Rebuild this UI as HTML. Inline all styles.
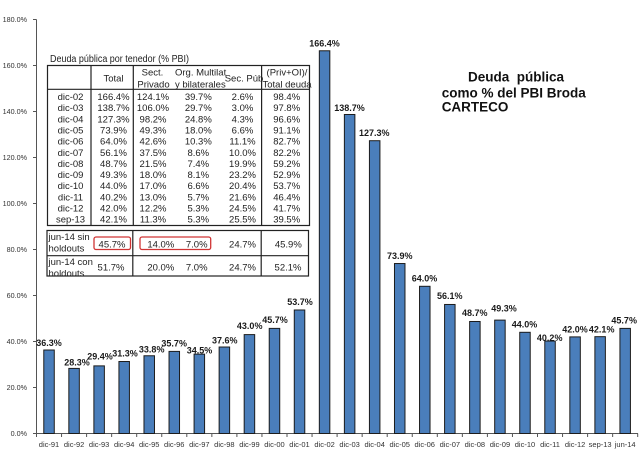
<!DOCTYPE html>
<html><head><meta charset="utf-8"><style>
html,body{margin:0;padding:0;background:#fff;}
svg{display:block;font-family:"Liberation Sans",Arial,sans-serif;}
</style></head><body>
<svg width="643" height="460" viewBox="0 0 643 460" xmlns="http://www.w3.org/2000/svg">
<rect width="643" height="460" fill="#fff"/>
<!-- axes -->
<g stroke="#555" stroke-width="1" fill="none">
<line x1="36.5" y1="19.5" x2="36.5" y2="433.5"/>
<line x1="36.5" y1="433.5" x2="638" y2="433.5"/>
<path d="M33 433.5H36.5M33 387.5H36.5M33 341.5H36.5M33 295.5H36.5M33 249.5H36.5M33 203.5H36.5M33 157.5H36.5M33 111.5H36.5M33 65.5H36.5M33 19.5H36.5"/>
<path d="M36.5 433.5V437M61.55 433.5V437M86.6 433.5V437M111.65 433.5V437M136.7 433.5V437M161.75 433.5V437M186.8 433.5V437M211.85 433.5V437M236.9 433.5V437M261.95 433.5V437M287 433.5V437M312.05 433.5V437M337.1 433.5V437M362.15 433.5V437M387.2 433.5V437M412.25 433.5V437M437.3 433.5V437M462.35 433.5V437M487.4 433.5V437M512.45 433.5V437M537.5 433.5V437M562.55 433.5V437M587.6 433.5V437M612.65 433.5V437M637.7 433.5V437"/>
</g>
<g font-size="7.2" fill="#333" text-anchor="end">
<text x="27" y="436.2">0.0%</text>
<text x="27" y="390.2">20.0%</text>
<text x="27" y="344.2">40.0%</text>
<text x="27" y="298.2">60.0%</text>
<text x="27" y="252.2">80.0%</text>
<text x="27" y="206.2">100.0%</text>
<text x="27" y="160.2">120.0%</text>
<text x="27" y="114.2">140.0%</text>
<text x="27" y="68.2">160.0%</text>
<text x="27" y="22.2">180.0%</text>
</g>
<g font-size="7.5" fill="#333" text-anchor="middle">
<text x="49.03" y="447">dic-91</text>
<text x="74.08" y="447">dic-92</text>
<text x="99.13" y="447">dic-93</text>
<text x="124.18" y="447">dic-94</text>
<text x="149.23" y="447">dic-95</text>
<text x="174.28" y="447">dic-96</text>
<text x="199.33" y="447">dic-97</text>
<text x="224.38" y="447">dic-98</text>
<text x="249.43" y="447">dic-99</text>
<text x="274.48" y="447">dic-00</text>
<text x="299.53" y="447">dic-01</text>
<text x="324.58" y="447">dic-02</text>
<text x="349.63" y="447">dic-03</text>
<text x="374.68" y="447">dic-04</text>
<text x="399.73" y="447">dic-05</text>
<text x="424.78" y="447">dic-06</text>
<text x="449.83" y="447">dic-07</text>
<text x="474.88" y="447">dic-08</text>
<text x="499.93" y="447">dic-09</text>
<text x="524.98" y="447">dic-10</text>
<text x="550.03" y="447">dic-11</text>
<text x="575.08" y="447">dic-12</text>
<text x="600.13" y="447">sep-13</text>
<text x="625.18" y="447">jun-14</text>
</g>
<!-- bars -->
<g fill="#4a7ebb" stroke="#1c1c1c" stroke-width="1">
<rect x="43.78" y="350.01" width="10.5" height="83.49"/>
<rect x="68.83" y="368.41" width="10.5" height="65.09"/>
<rect x="93.88" y="365.88" width="10.5" height="67.62"/>
<rect x="118.93" y="361.51" width="10.5" height="71.99"/>
<rect x="143.98" y="355.76" width="10.5" height="77.74"/>
<rect x="169.03" y="351.39" width="10.5" height="82.11"/>
<rect x="194.08" y="354.15" width="10.5" height="79.35"/>
<rect x="219.13" y="347.02" width="10.5" height="86.48"/>
<rect x="244.18" y="334.6" width="10.5" height="98.9"/>
<rect x="269.23" y="328.39" width="10.5" height="105.11"/>
<rect x="294.28" y="309.99" width="10.5" height="123.51"/>
<rect x="319.33" y="50.78" width="10.5" height="382.72"/>
<rect x="344.38" y="114.49" width="10.5" height="319.01"/>
<rect x="369.43" y="140.71" width="10.5" height="292.79"/>
<rect x="394.48" y="263.53" width="10.5" height="169.97"/>
<rect x="419.53" y="286.3" width="10.5" height="147.2"/>
<rect x="444.58" y="304.47" width="10.5" height="129.03"/>
<rect x="469.63" y="321.49" width="10.5" height="112.01"/>
<rect x="494.68" y="320.11" width="10.5" height="113.39"/>
<rect x="519.73" y="332.3" width="10.5" height="101.2"/>
<rect x="544.78" y="341.04" width="10.5" height="92.46"/>
<rect x="569.83" y="336.9" width="10.5" height="96.6"/>
<rect x="594.88" y="336.67" width="10.5" height="96.83"/>
<rect x="619.93" y="328.39" width="10.5" height="105.11"/>
</g>
<!-- bar labels -->
<g font-size="9" font-weight="bold" fill="#1a1a1a" text-anchor="middle">
<text x="49" y="346">36.3%</text>
<text x="77" y="365.7">28.3%</text>
<text x="100" y="359.3">29.4%</text>
<text x="125" y="356.7">31.3%</text>
<text x="151.7" y="352.7">33.8%</text>
<text x="174.2" y="346.7">35.7%</text>
<text x="199.5" y="353.3">34.5%</text>
<text x="224.8" y="343.3">37.6%</text>
<text x="249.7" y="329">43.0%</text>
<text x="275" y="323">45.7%</text>
<text x="300" y="305">53.7%</text>
<text x="324.5" y="46.7">166.4%</text>
<text x="349.5" y="111">138.7%</text>
<text x="374.3" y="136">127.3%</text>
<text x="399.8" y="259">73.9%</text>
<text x="424.5" y="281.7">64.0%</text>
<text x="449.8" y="299">56.1%</text>
<text x="474.8" y="316">48.7%</text>
<text x="504" y="311.7">49.3%</text>
<text x="524.5" y="327.3">44.0%</text>
<text x="549.7" y="341">40.2%</text>
<text x="575" y="332.3">42.0%</text>
<text x="601.7" y="332.3">42.1%</text>
<text x="624.2" y="323.3">45.7%</text>
</g>
<!-- title -->
<g font-size="13.5" font-weight="bold" fill="#111">
<text x="468" y="81.7" xml:space="preserve">Deuda  pública</text>
<text x="441.7" y="97.3">como % del PBI Broda</text>
<text x="441.7" y="111.7">CARTECO</text>
</g>
<!-- table -->
<rect x="47.5" y="65.5" width="262" height="160" fill="#fff" stroke="none"/>
<rect x="47" y="230.5" width="262" height="45.5" fill="#fff" stroke="none"/>
<text x="50" y="62" font-size="10" fill="#222" textLength="139" lengthAdjust="spacingAndGlyphs">Deuda pública por tenedor (% PBI)</text>
<g stroke="#222" stroke-width="1.2" fill="none">
<rect x="47.5" y="65.5" width="262" height="160"/>
<line x1="47.5" y1="89.3" x2="309.5" y2="89.3"/>
<line x1="91" y1="65.5" x2="91" y2="225.5"/>
<line x1="133.3" y1="65.5" x2="133.3" y2="225.5"/>
<line x1="261.6" y1="65.5" x2="261.6" y2="225.5"/>
<rect x="47" y="230.5" width="261.5" height="45.5"/>
<line x1="47" y1="255.7" x2="308.5" y2="255.7"/>
<line x1="132.8" y1="230.5" x2="132.8" y2="276"/>
<line x1="261.2" y1="230.5" x2="261.2" y2="276"/>
</g>
<g stroke="#d03434" stroke-width="1.3" fill="none">
<rect x="94" y="237" width="36.5" height="12.5" rx="2"/>
<rect x="140" y="237" width="70.7" height="12.5" rx="2"/>
</g>
<g font-size="9.5" fill="#222" text-anchor="middle">
<text x="113.5" y="81.7">Total</text>
<text x="152.5" y="75.5">Sect.</text>
<text x="153.5" y="87.6">Privado</text>
<text x="175" y="75.5" text-anchor="start">Org. Multilat</text>
<text x="175" y="87.6" text-anchor="start">y bilaterales</text>
<text x="244" y="81.7">Sec. Púb</text>
<text x="287" y="75.5">(Priv+OI)/</text>
<text x="287" y="87.6">Total deuda</text>
</g>
<g font-size="9.5" fill="#222" text-anchor="middle">
<g transform="translate(0,100)">
<text x="70.5" y="0">dic-02</text><text x="113.5" y="0">166.4%</text><text x="153" y="0">124.1%</text><text x="198.3" y="0">39.7%</text><text x="242.5" y="0">2.6%</text><text x="286.7" y="0">98.4%</text>
</g>
<g transform="translate(0,111.15)">
<text x="70.5" y="0">dic-03</text><text x="113.5" y="0">138.7%</text><text x="153" y="0">106.0%</text><text x="198.3" y="0">29.7%</text><text x="242.5" y="0">3.0%</text><text x="286.7" y="0">97.8%</text>
</g>
<g transform="translate(0,122.3)">
<text x="70.5" y="0">dic-04</text><text x="113.5" y="0">127.3%</text><text x="153" y="0">98.2%</text><text x="198.3" y="0">24.8%</text><text x="242.5" y="0">4.3%</text><text x="286.7" y="0">96.6%</text>
</g>
<g transform="translate(0,133.45)">
<text x="70.5" y="0">dic-05</text><text x="113.5" y="0">73.9%</text><text x="153" y="0">49.3%</text><text x="198.3" y="0">18.0%</text><text x="242.5" y="0">6.6%</text><text x="286.7" y="0">91.1%</text>
</g>
<g transform="translate(0,144.6)">
<text x="70.5" y="0">dic-06</text><text x="113.5" y="0">64.0%</text><text x="153" y="0">42.6%</text><text x="198.3" y="0">10.3%</text><text x="242.5" y="0">11.1%</text><text x="286.7" y="0">82.7%</text>
</g>
<g transform="translate(0,155.75)">
<text x="70.5" y="0">dic-07</text><text x="113.5" y="0">56.1%</text><text x="153" y="0">37.5%</text><text x="198.3" y="0">8.6%</text><text x="242.5" y="0">10.0%</text><text x="286.7" y="0">82.2%</text>
</g>
<g transform="translate(0,166.9)">
<text x="70.5" y="0">dic-08</text><text x="113.5" y="0">48.7%</text><text x="153" y="0">21.5%</text><text x="198.3" y="0">7.4%</text><text x="242.5" y="0">19.9%</text><text x="286.7" y="0">59.2%</text>
</g>
<g transform="translate(0,178.05)">
<text x="70.5" y="0">dic-09</text><text x="113.5" y="0">49.3%</text><text x="153" y="0">18.0%</text><text x="198.3" y="0">8.1%</text><text x="242.5" y="0">23.2%</text><text x="286.7" y="0">52.9%</text>
</g>
<g transform="translate(0,189.2)">
<text x="70.5" y="0">dic-10</text><text x="113.5" y="0">44.0%</text><text x="153" y="0">17.0%</text><text x="198.3" y="0">6.6%</text><text x="242.5" y="0">20.4%</text><text x="286.7" y="0">53.7%</text>
</g>
<g transform="translate(0,200.35)">
<text x="70.5" y="0">dic-11</text><text x="113.5" y="0">40.2%</text><text x="153" y="0">13.0%</text><text x="198.3" y="0">5.7%</text><text x="242.5" y="0">21.6%</text><text x="286.7" y="0">46.4%</text>
</g>
<g transform="translate(0,211.5)">
<text x="70.5" y="0">dic-12</text><text x="113.5" y="0">42.0%</text><text x="153" y="0">12.2%</text><text x="198.3" y="0">5.3%</text><text x="242.5" y="0">24.5%</text><text x="286.7" y="0">41.7%</text>
</g>
<g transform="translate(0,222.65)">
<text x="70.5" y="0">sep-13</text><text x="113.5" y="0">42.1%</text><text x="153" y="0">11.3%</text><text x="198.3" y="0">5.3%</text><text x="242.5" y="0">25.5%</text><text x="286.7" y="0">39.5%</text>
</g>
<text x="112" y="247.5">45.7%</text>
<text x="160.8" y="247.5">14.0%</text>
<text x="196.7" y="247.5">7.0%</text>
<text x="242.5" y="247.5">24.7%</text>
<text x="288.3" y="247.5">45.9%</text>
<text x="111" y="270.7">51.7%</text>
<text x="160.8" y="270.7">20.0%</text>
<text x="196.7" y="270.7">7.0%</text>
<text x="242.5" y="270.7">24.7%</text>
<text x="288" y="270.7">52.1%</text>
</g>
<g font-size="9.5" fill="#222">
<text x="48.5" y="240">jun-14 sin</text>
<text x="48.5" y="251.5">holdouts</text>
<text x="48.5" y="265">jun-14 con</text>
<text x="48.5" y="276.5">holdouts</text>
</g>
</svg>
</body></html>
